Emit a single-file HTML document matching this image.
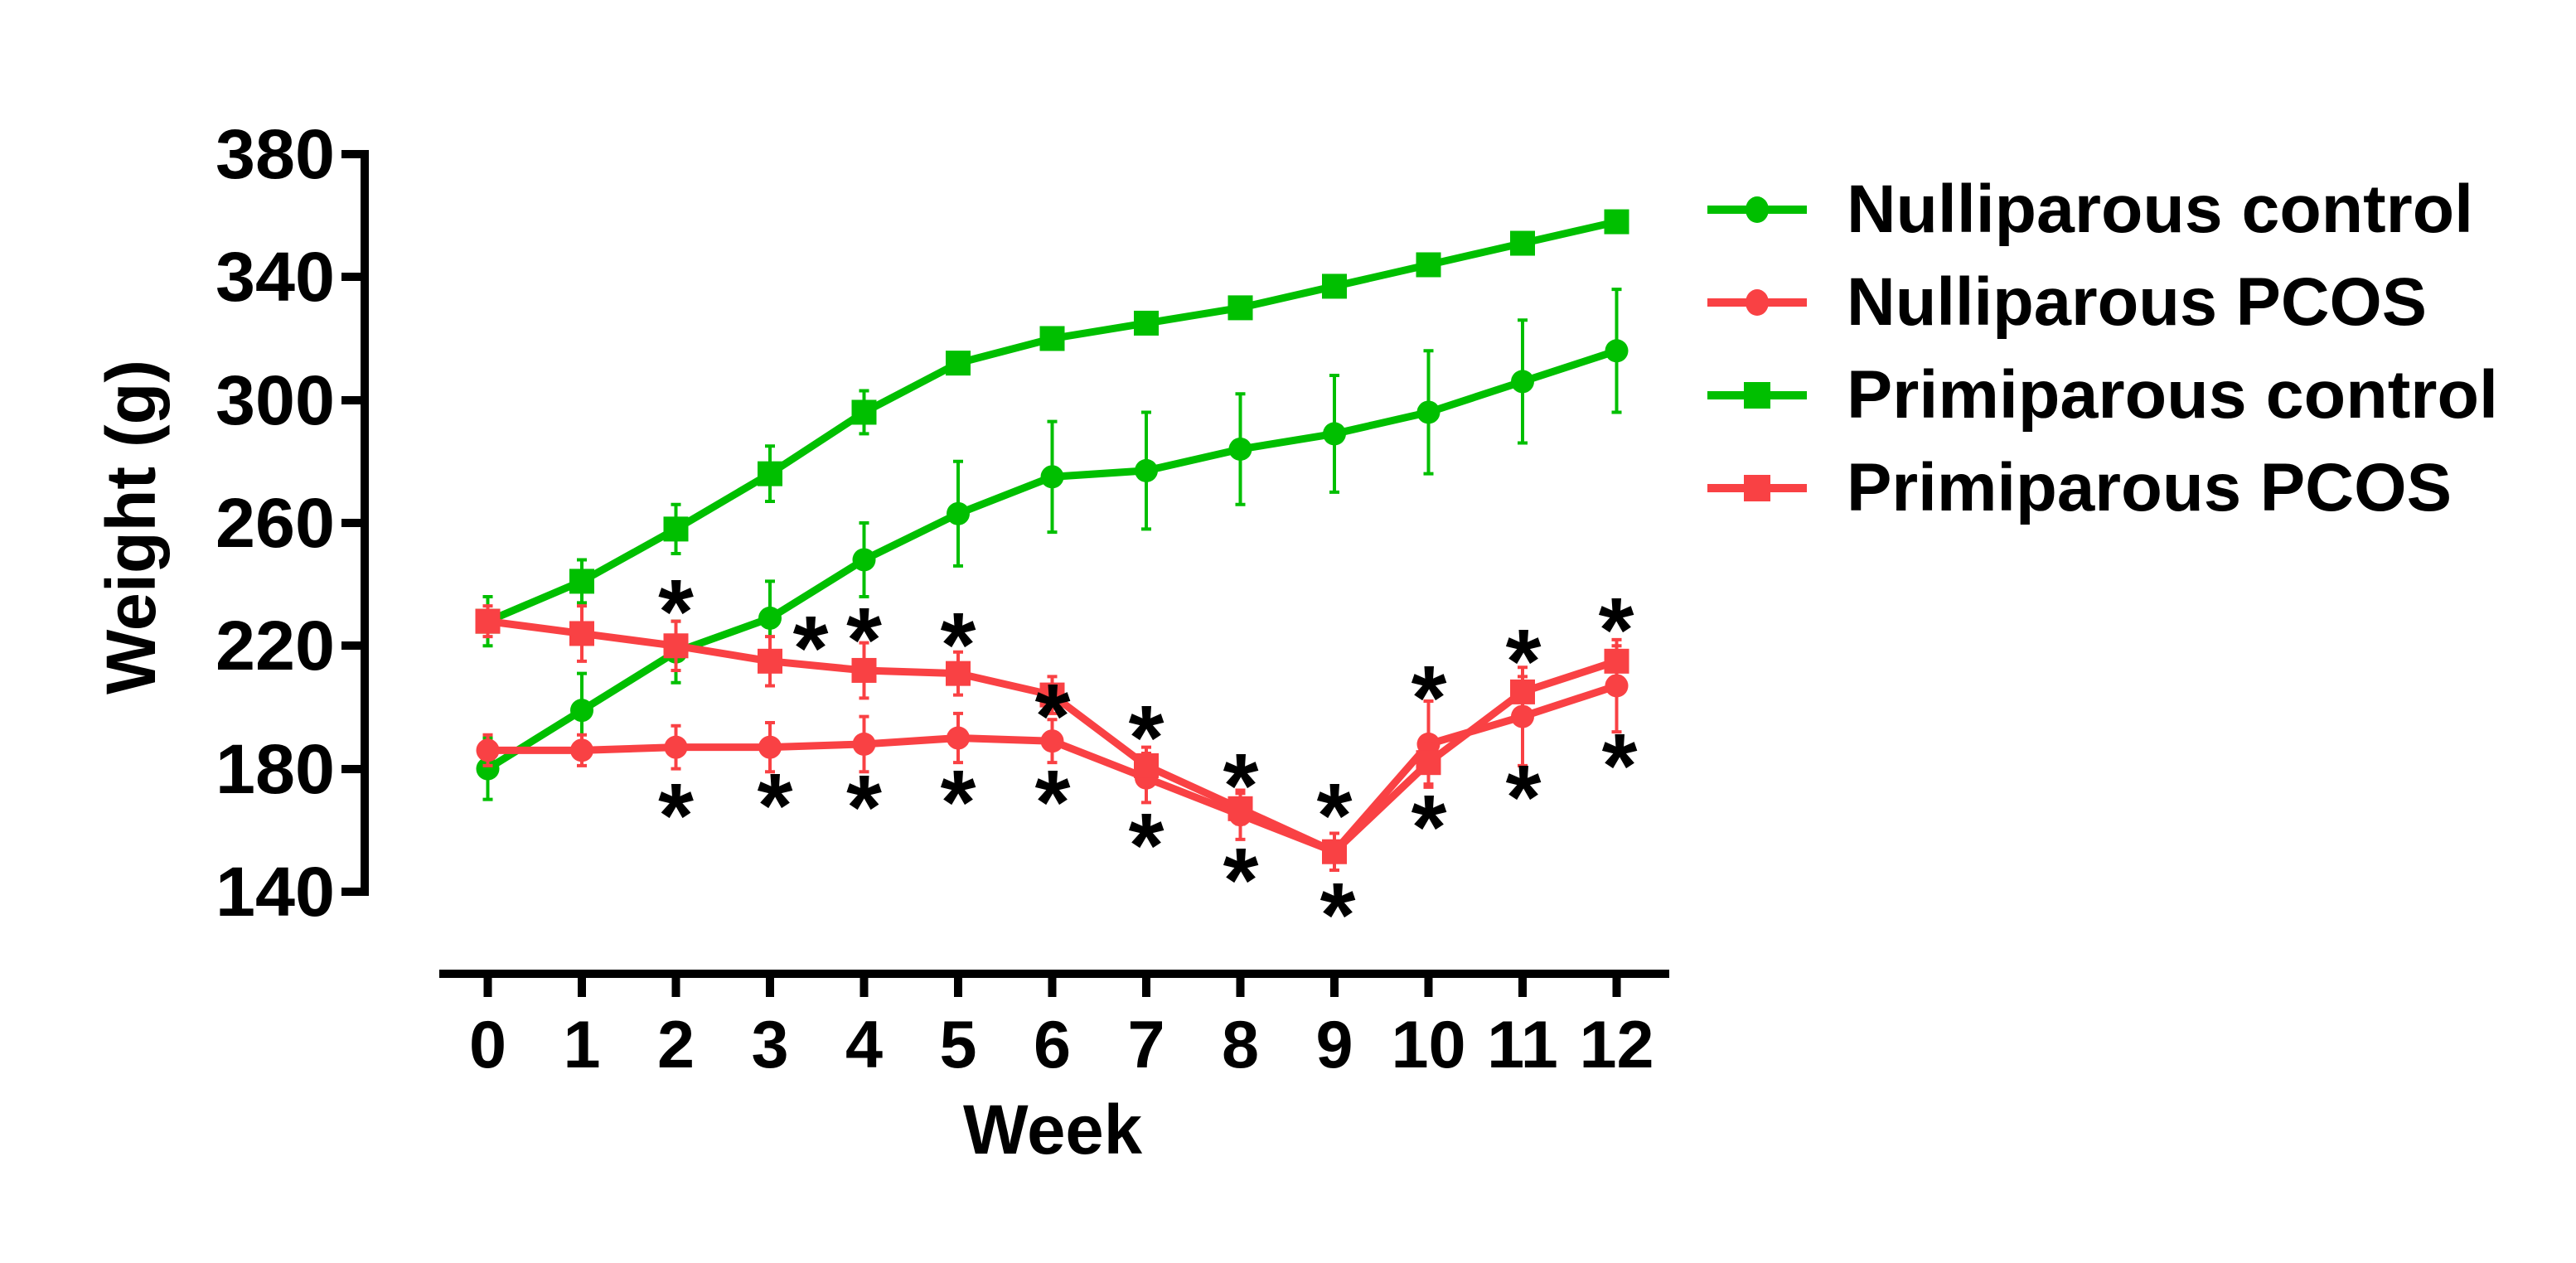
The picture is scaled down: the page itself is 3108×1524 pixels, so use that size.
<!DOCTYPE html>
<html><head><meta charset="utf-8"><style>
html,body{margin:0;padding:0;background:#fff}
svg{display:block}
text{font-family:"Liberation Sans",Arial,sans-serif;font-weight:bold;fill:#000}
</style></head><body>
<svg id="s" width="3108" height="1524" viewBox="0 0 3108 1524" xmlns="http://www.w3.org/2000/svg">
<rect width="3108" height="1524" fill="#fff"/>
<g id="axes" stroke="#000" stroke-width="10" fill="none">
<path d="M440 181 V1081"/>
<path d="M412 186 H440 M412 334 H440 M412 483 H440 M412 631 H440 M412 779 H440 M412 928 H440 M412 1076 H440"/>
<path d="M530 1175 H2014"/>
</g>
<g id="xt" stroke="#000" stroke-width="10"></g>
<g font-size="84" text-anchor="end">
<text x="404" y="215" textLength="144" lengthAdjust="spacingAndGlyphs">380</text>
<text x="404" y="363" textLength="144" lengthAdjust="spacingAndGlyphs">340</text>
<text x="404" y="512" textLength="144" lengthAdjust="spacingAndGlyphs">300</text>
<text x="404" y="660" textLength="144" lengthAdjust="spacingAndGlyphs">260</text>
<text x="404" y="808" textLength="144" lengthAdjust="spacingAndGlyphs">220</text>
<text x="404" y="957" textLength="144" lengthAdjust="spacingAndGlyphs">180</text>
<text x="404" y="1105" textLength="144" lengthAdjust="spacingAndGlyphs">140</text>
</g>
<g font-size="81" text-anchor="middle">
<text x="588.5" y="1288">0</text><text x="702" y="1288">1</text><text x="815.5" y="1288">2</text>
<text x="929" y="1288">3</text><text x="1042.5" y="1288">4</text><text x="1156" y="1288">5</text>
<text x="1269.5" y="1288">6</text><text x="1383" y="1288">7</text><text x="1496.5" y="1288">8</text>
<text x="1610" y="1288">9</text><text x="1723.5" y="1288">10</text><text x="1837" y="1288">11</text>
<text x="1950.5" y="1288">12</text>
</g>
<text x="1270" y="1392" font-size="84" text-anchor="middle" textLength="216" lengthAdjust="spacingAndGlyphs">Week</text>
<text transform="translate(187,636) rotate(-90)" font-size="84" text-anchor="middle" textLength="404" lengthAdjust="spacingAndGlyphs">Weight (g)</text>
<g id="series"></g>
<g id="legend"></g>
<g font-size="110" text-anchor="middle">
<text x="815.5" y="776">*</text>
<text x="978" y="820">*</text>
<text x="1042.5" y="810">*</text>
<text x="1156" y="816">*</text>
<text x="1270" y="902">*</text>
<text x="1383" y="928">*</text>
<text x="1497" y="986">*</text>
<text x="1610" y="1022">*</text>
<text x="1724" y="880">*</text>
<text x="1838" y="836">*</text>
<text x="1950" y="798">*</text>
<text x="815.5" y="1022">*</text>
<text x="935" y="1010">*</text>
<text x="1042.5" y="1012">*</text>
<text x="1156" y="1006">*</text>
<text x="1270" y="1006">*</text>
<text x="1383" y="1058">*</text>
<text x="1497" y="1100">*</text>
<text x="1614" y="1142">*</text>
<text x="1724" y="1036">*</text>
<text x="1838" y="1000">*</text>
<text x="1954" y="962">*</text>
</g>
<g font-size="82">
<text x="2228" y="280" textLength="756" lengthAdjust="spacingAndGlyphs">Nulliparous control</text>
<text x="2228" y="392" textLength="700" lengthAdjust="spacingAndGlyphs">Nulliparous PCOS</text>
<text x="2228" y="504" textLength="786" lengthAdjust="spacingAndGlyphs">Primiparous control</text>
<text x="2228" y="616" textLength="730" lengthAdjust="spacingAndGlyphs">Primiparous PCOS</text>
</g>
</svg>
<script>
var NS="http://www.w3.org/2000/svg";
function el(p,t,a){var e=document.createElementNS(NS,t);for(var k in a)e.setAttribute(k,a[k]);p.appendChild(e);return e;}
function X(i){return 588.5+113.5*i;}
function Y(v){return 186+(380-v)*3.708;}
var xt=document.getElementById('xt');
for(var i=0;i<13;i++)el(xt,'line',{x1:X(i),x2:X(i),y1:1175,y2:1203});
var G="#00bf00",R="#f94144";
var S=[
{c:G,m:'c',v:[180,199,218,229,248,263,275,277,284,289,296,306,316],e:[10,12,10,12,12,17,18,19,18,19,20,20,20]},
{c:R,m:'c',v:[186,186,187,187,188,190,189,177,165,153,188,197,207],e:[5,5,7,8,9,8,7,8,8,6,14,16,15]},
{c:G,m:'s',v:[228,241,258,276,296,312,320,325,330,337,344,351,358],e:[8,7,8,9,7,3,3,3,3,3,3,3,3]},
{c:R,m:'s',v:[228,224,220,215,212,211,204,181,167,153,182,205,215],e:[5,9,8,8,9,7,6,6,5,6,7,5,5]}
];
var g=document.getElementById('series');
S.forEach(function(s){
 var d='';
 s.v.forEach(function(v,i){
  var x=X(i),y=Y(v),h=s.e[i]*3.708;
  el(g,'path',{d:'M'+x+' '+(y-h)+'V'+(y+h)+'M'+(x-6)+' '+(y-h)+'H'+(x+6)+'M'+(x-6)+' '+(y+h)+'H'+(x+6),stroke:s.c,'stroke-width':4,fill:'none'});
  d+=(i?'L':'M')+x+' '+y;
 });
 el(g,'path',{d:d,stroke:s.c,'stroke-width':9,fill:'none','stroke-linejoin':'round'});
 s.v.forEach(function(v,i){
  var x=X(i),y=Y(v);
  if(s.m=='c')el(g,'circle',{cx:x,cy:y,r:14,fill:s.c});
  else el(g,'rect',{x:x-15,y:y-15,width:30,height:30,fill:s.c});
 });
});
var lg=document.getElementById('legend');
var ly=[253,365,477,589];
S.forEach(function(s,k){
 var y=ly[k];
 el(lg,'line',{x1:2060,x2:2180,y1:y,y2:y,stroke:s.c,'stroke-width':10});
 if(s.m=='c')el(lg,'ellipse',{cx:2120,cy:y,rx:14,ry:16,fill:s.c});
 else el(lg,'rect',{x:2104,y:y-16,width:32,height:32,fill:s.c});
});
</script>
</body></html>
